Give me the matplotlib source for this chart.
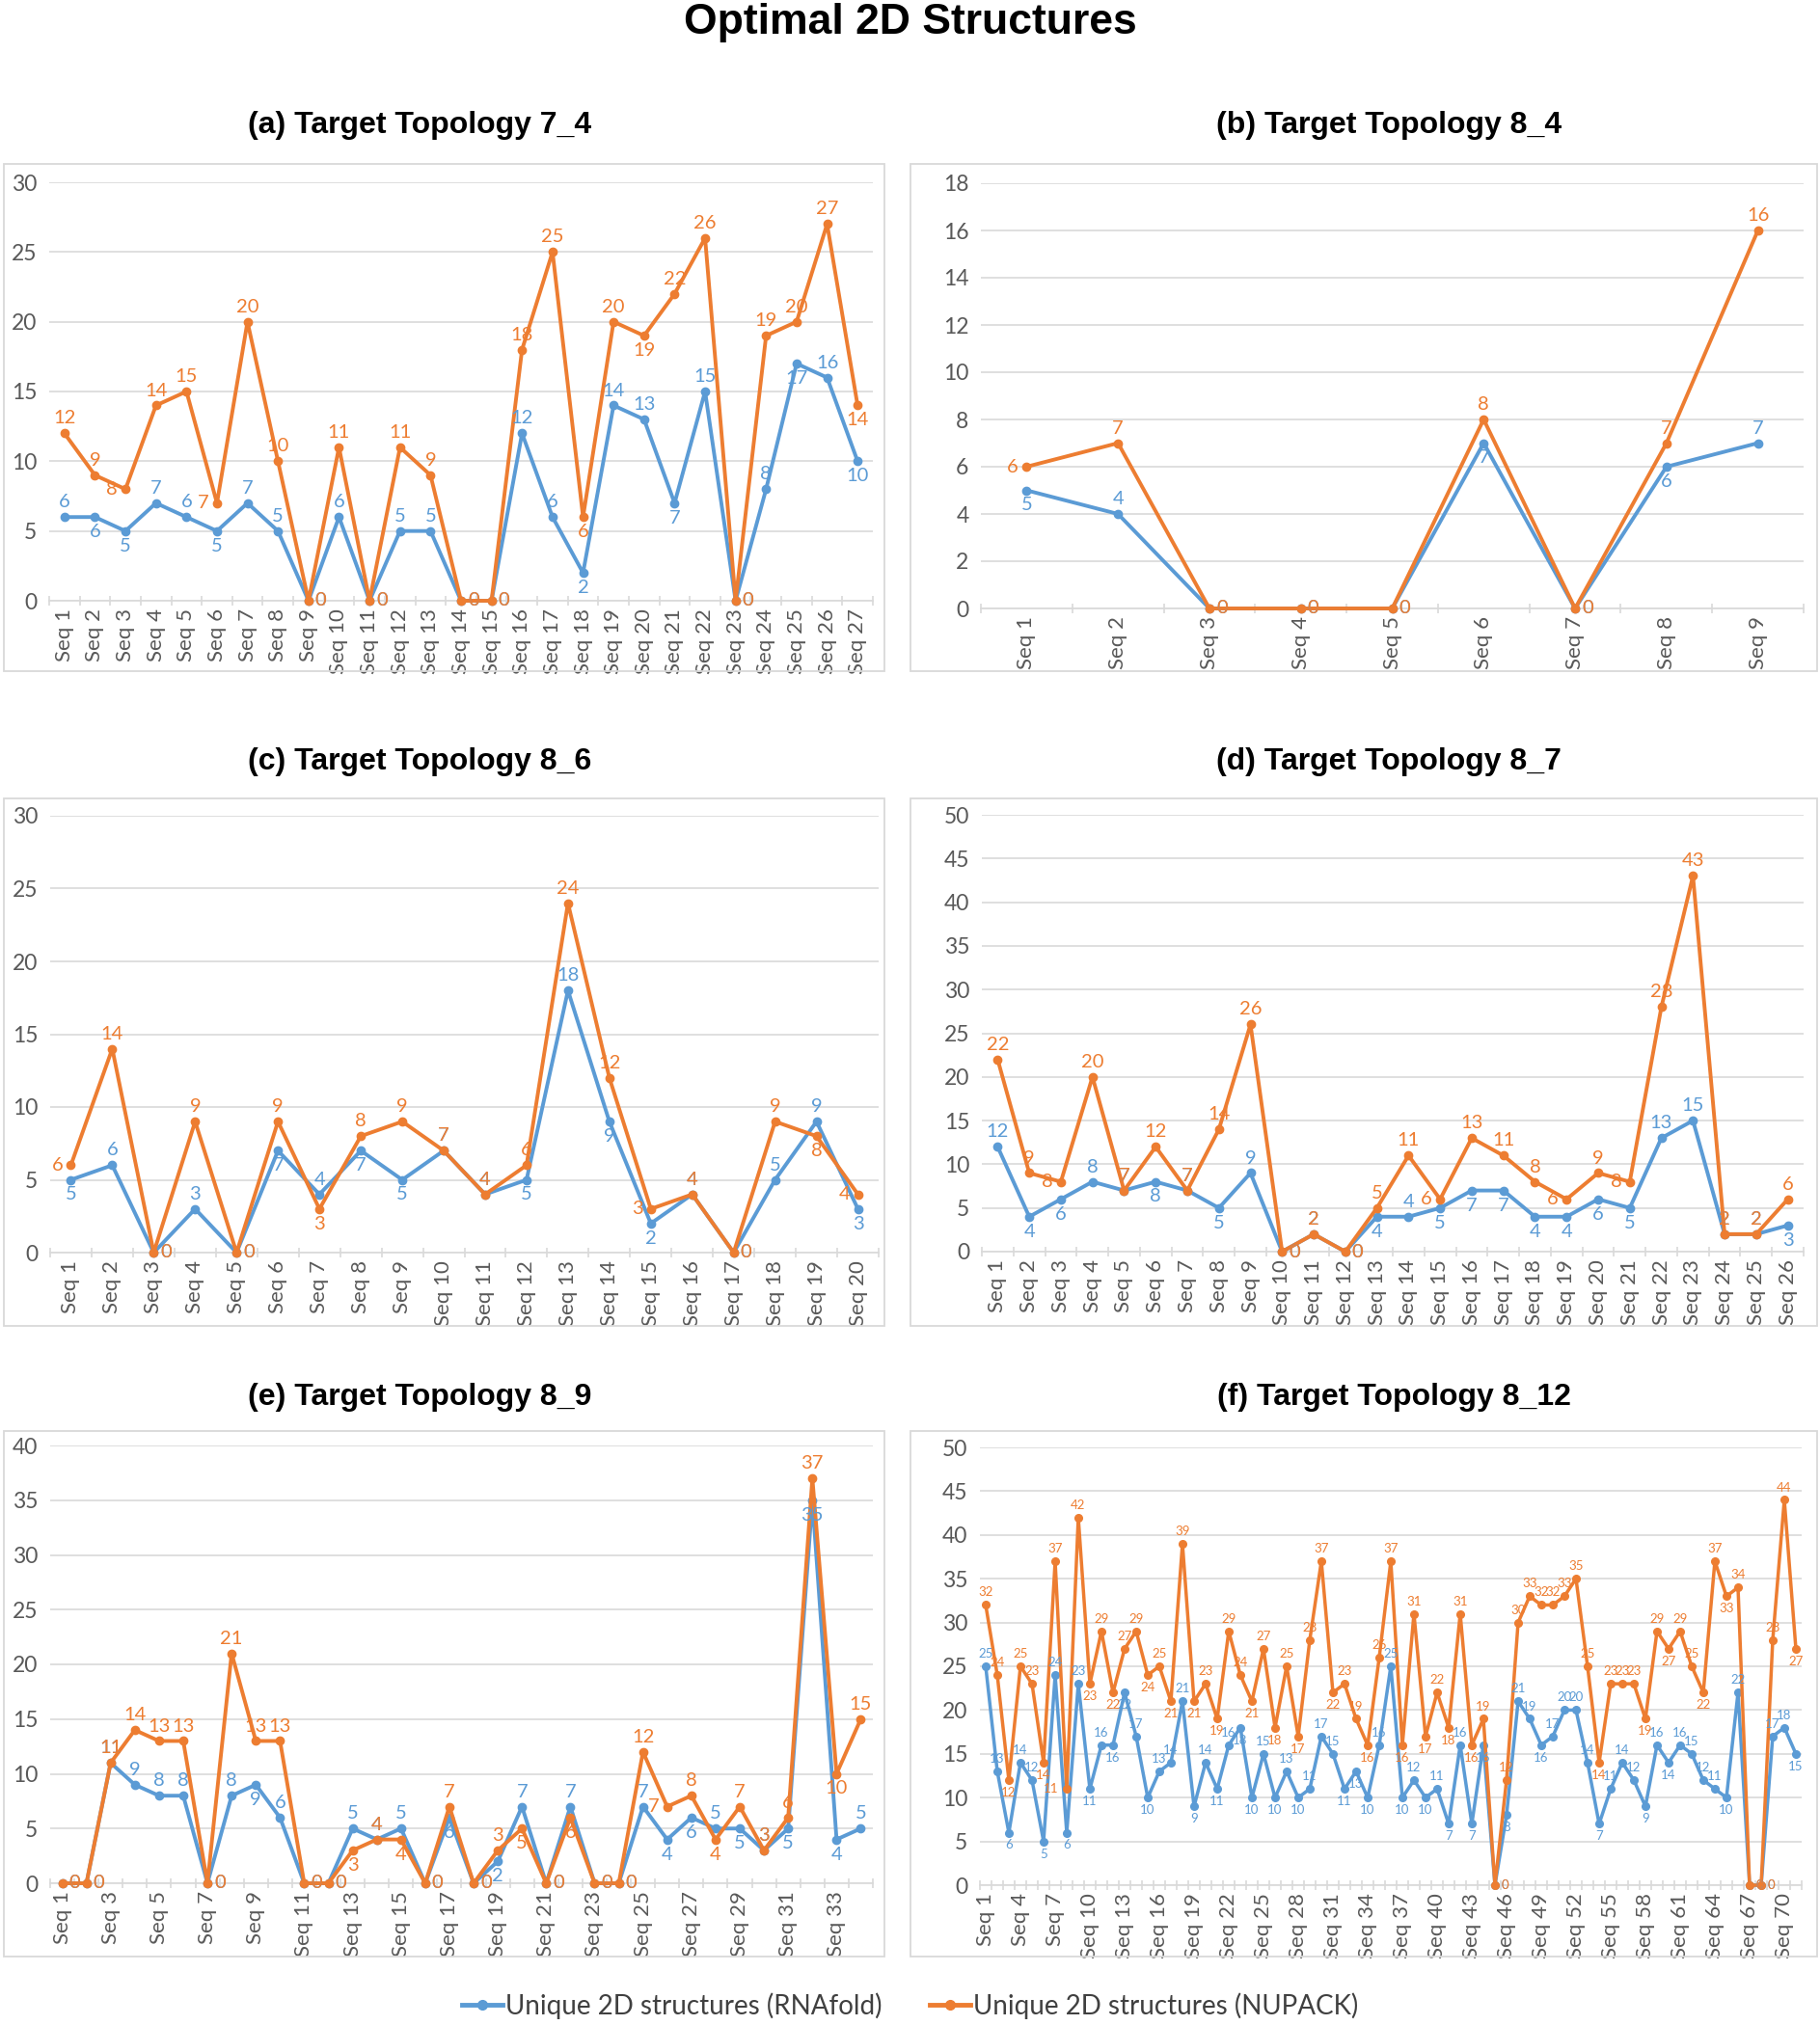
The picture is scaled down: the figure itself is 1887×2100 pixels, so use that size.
import matplotlib
matplotlib.use("Agg")
import matplotlib.pyplot as plt
from matplotlib.patches import Rectangle
from matplotlib.lines import Line2D
import numpy as np

plt.rcParams['font.family'] = ['Lato', 'DejaVu Sans']

# ---------------- data ----------------
a_rna = [6, 6, 5, 7, 6, 5, 7, 5, 0, 6, 0, 5, 5, 0, 0, 12, 6, 2, 14, 13, 7, 15, 0, 8, 17, 16, 10]
a_nup = [12, 9, 8, 14, 15, 7, 20, 10, 0, 11, 0, 11, 9, 0, 0, 18, 25, 6, 20, 19, 22, 26, 0, 19, 20, 27, 14]

b_rna = [5, 4, 0, 0, 0, 7, 0, 6, 7]
b_nup = [6, 7, 0, 0, 0, 8, 0, 7, 16]

c_rna = [5, 6, 0, 3, 0, 7, 4, 7, 5, 7, 4, 5, 18, 9, 2, 4, 0, 5, 9, 3]
c_nup = [6, 14, 0, 9, 0, 9, 3, 8, 9, 7, 4, 6, 24, 12, 3, 4, 0, 9, 8, 4]

d_rna = [12, 4, 6, 8, 7, 8, 7, 5, 9, 0, 2, 0, 4, 4, 5, 7, 7, 4, 4, 6, 5, 13, 15, 2, 2, 3]
d_nup = [22, 9, 8, 20, 7, 12, 7, 14, 26, 0, 2, 0, 5, 11, 6, 13, 11, 8, 6, 9, 8, 28, 43, 2, 2, 6]

e_rna = [0, 0, 11, 9, 8, 8, 0, 8, 9, 6, 0, 0, 5, 4, 5, 0, 6, 0, 2, 7, 0, 7, 0, 0,
         7, 4, 6, 5, 5, 3, 5, 35, 4, 5]
e_nup = [0, 0, 11, 14, 13, 13, 0, 21, 13, 13, 0, 0, 3, 4, 4, 0, 7, 0, 3, 5, 0, 6, 0, 0,
         12, 7, 8, 4, 7, 3, 6, 37, 10, 15]

f_rna = [25, 13, 6, 14, 12, 5, 24, 6, 23, 11,
         16, 16, 22, 17, 10, 13, 14, 21, 9, 14,
         11, 16, 18, 10, 15, 10, 13, 10, 11, 17,
         15, 11, 13, 10, 16, 25, 10, 12, 10, 11,
         7, 16, 7, 16, 0, 8, 21, 19, 16, 17,
         20, 20, 14, 7, 11, 14, 12, 9, 16, 14,
         16, 15, 12, 11, 10, 22, 0, 0, 17, 18, 15]
f_nup = [32, 24, 12, 25, 23, 14, 37, 11, 42, 23,
         29, 22, 27, 29, 24, 25, 21, 39, 21, 23,
         19, 29, 24, 21, 27, 18, 25, 17, 28, 37,
         22, 23, 19, 16, 26, 37, 16, 31, 17, 22,
         18, 31, 16, 19, 0, 12, 30, 33, 32, 32,
         33, 35, 25, 14, 23, 23, 23, 19, 29, 27,
         29, 25, 22, 37, 33, 34, 0, 0, 28, 44, 27]

titles = ['(a) Target Topology 7_4', '(b) Target Topology 8_4', '(c) Target Topology 8_6',
          '(d) Target Topology 8_7', '(e) Target Topology 8_9', '(f) Target Topology 8_12']
y_max = [30, 18, 30, 50, 40, 50]
y_step = [5, 2, 5, 5, 5, 5]
label_every = [1, 1, 1, 1, 2, 3]
series_label = ['Unique 2D structures (RNAfold)', 'Unique 2D structures (NUPACK)']

# ---------------- style / layout ----------------
BLUE = '#5B9BD5'
ORANGE = '#ED7D31'
GRID = '#D9D9D9'
TXT = '#595959'
W, H = 1887, 2100

def fx(px):
    return px / W

def fy(px):
    return 1 - px / H

# axes rects in pixel coords: left, right, top, bottom
ax_px = [(51, 905, 189, 623), (1017, 1870, 190, 631),
         (52, 911, 846, 1299), (1018, 1870, 845, 1298),
         (52, 905, 1499, 1953), (1016, 1868, 1501, 1955)]
box_px = [(4, 917, 170, 696), (944, 1884, 170, 696),
          (4, 917, 828, 1375), (944, 1884, 828, 1375),
          (4, 917, 1484, 2029), (944, 1884, 1484, 2029)]
title_xy = [(435, 130), (1440, 130), (435, 790), (1440, 790), (435, 1449), (1445, 1449)]

fig = plt.figure(figsize=(W / 100, H / 100), dpi=100)

fig.text(0.5, fy(24), 'Optimal 2D Structures', ha='center', va='center',
         fontsize=32, fontweight='bold', family=['Liberation Sans', 'DejaVu Sans'])


def positions(v, w, ymax, orange):
    n = len(v)
    pos = []
    thr = 0.12 * ymax
    for i in range(n):
        nb = [v[j] for j in (i - 1, i + 1) if 0 <= j < n]
        is_min = all(v[i] < x for x in nb)
        if v[i] == 0:
            pos.append('r')
            continue
        if v[i] == w[i]:
            # both points coincide: the labels sit on top of each other (as in Excel)
            pos.append('a')
            continue
        if orange:
            if v[i] < w[i]:
                pos.append('b')
            elif is_min:
                pos.append('l' if (v[i] - w[i]) < thr else 'b')
            else:
                pos.append('a')
        else:
            if v[i] > w[i]:
                pos.append('a')
            elif (w[i] - v[i]) > thr and not is_min:
                pos.append('a')
            else:
                pos.append('b')
    return pos


OFF = {'a': ((0, 5), 'center', 'bottom'), 'b': ((0, -5), 'center', 'top'),
       'r': ((5, 0), 'left', 'center'), 'l': ((-6, 0), 'right', 'center')}

data = [(a_rna, a_nup), (b_rna, b_nup), (c_rna, c_nup), (d_rna, d_nup), (e_rna, e_nup), (f_rna, f_nup)]

for k, (rna, nup) in enumerate(data):
    l, r, t, b = ax_px[k]
    ax = fig.add_axes([fx(l), fy(b), fx(r) - fx(l), fy(t) - fy(b)])
    bl, br, bt, bb = box_px[k]
    fig.patches.append(Rectangle((fx(bl), fy(bb)), fx(br) - fx(bl), fy(bt) - fy(bb),
                                 transform=fig.transFigure, fill=False,
                                 edgecolor=GRID, linewidth=1.3, zorder=0))
    fig.text(fx(title_xy[k][0]), fy(title_xy[k][1]), titles[k], ha='center', va='center',
             fontsize=23, fontweight='bold', family=['Liberation Sans', 'DejaVu Sans'])

    n = len(rna)
    x = np.arange(1, n + 1)
    ymax = y_max[k]
    small = (k == 5)
    lw = 2.5 if small else 2.8
    ms = 5.5 if small else 6
    ax.plot(x, rna, color=BLUE, lw=lw, marker='o', ms=ms, clip_on=False, zorder=3)
    ax.plot(x, nup, color=ORANGE, lw=lw, marker='o', ms=ms, clip_on=False, zorder=4)

    fs = 9.5 if small else 14.5
    for vals, other, col, orange in ((rna, nup, BLUE, False), (nup, rna, ORANGE, True)):
        ps = positions(vals, other, ymax, orange)
        for i, (val, p) in enumerate(zip(vals, ps)):
            off, ha, va = OFF[p]
            ax.annotate(str(val), (x[i], val), xytext=off, textcoords='offset points',
                        ha=ha, va=va, fontsize=fs, color=col,
                        zorder=6 if orange else 5, annotation_clip=False)

    ax.set_xlim(0.5, n + 0.5)
    ax.set_ylim(0, ymax)
    ax.set_yticks(np.arange(0, ymax + 1, y_step[k]))
    ev = label_every[k]
    ax.set_xticks(x[::ev])
    ax.set_xticklabels([f'Seq {i}' for i in x[::ev]], rotation=90)
    ax.set_xticks(np.arange(0.5, n + 1.0, 1.0), minor=True)
    ax.tick_params(axis='x', which='major', length=0, labelsize=16, labelcolor=TXT, pad=6)
    ax.tick_params(axis='x', which='minor', length=7, direction='inout', color=GRID, width=1.2)
    ax.tick_params(axis='y', length=0, labelsize=16.5, labelcolor=TXT, pad=9)
    for s in ('left', 'right', 'top'):
        ax.spines[s].set_visible(False)
    ax.spines['bottom'].set_color(GRID)
    ax.spines['bottom'].set_linewidth(1.2)
    ax.yaxis.grid(True, color=GRID, lw=1.2)
    ax.set_axisbelow(True)
    ax.patch.set_alpha(0)

handles = [Line2D([0], [0], color=BLUE, lw=3.5, marker='o', ms=7),
           Line2D([0], [0], color=ORANGE, lw=3.5, marker='o', ms=7)]
fig.legend(handles, series_label, loc='center', bbox_to_anchor=(0.5, fy(2080)), ncol=2,
           frameon=False, fontsize=20, handlelength=1.5, handletextpad=0.1,
           columnspacing=1.8, labelcolor='#404040')

fig.savefig('out.png', dpi=100)
